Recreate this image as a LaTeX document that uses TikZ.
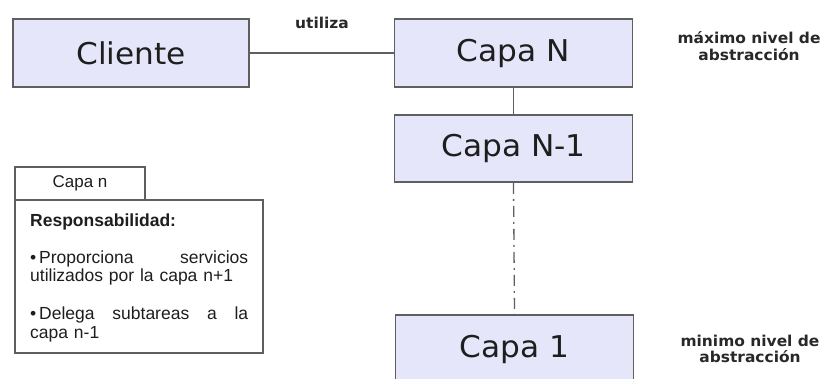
\documentclass[tikz,border=0pt]{standalone}
\usepackage{fontspec}
\newfontfamily\boxfont[FakeStretch=1.04]{DejaVu Sans}
\newfontfamily\lblfont[FakeStretch=1.03]{DejaVu Sans Bold}
\newfontfamily\pkgfont{Liberation Sans}
\definecolor{boxfill}{RGB}{230,230,250}
\definecolor{boxdraw}{RGB}{95,95,95}
\definecolor{txt}{RGB}{30,30,30}
\definecolor{lbltxt}{RGB}{40,40,40}
\tikzset{
  layer/.style={draw=boxdraw, line width=1.6pt, fill=boxfill, minimum width=238pt, minimum height=68pt, inner sep=0pt, text=txt, font=\boxfont\fontsize{30}{32}\selectfont},
  lbl/.style={text=lbltxt, font=\lblfont\fontsize{15}{16.5}\selectfont, align=center, inner sep=0pt},
  pkg/.style={draw=boxdraw, line width=1.3pt, fill=white, inner sep=0pt},
  link/.style={draw=boxdraw, line width=1.4pt},
  dotlink/.style={draw=boxdraw, line width=1.3pt, dash pattern=on 11pt off 5pt on 2pt off 5pt}
}
\begin{document}
\begin{tikzpicture}[x=1pt,y=-1pt]
\useasboundingbox (0,0) rectangle (826,378);
\clip (0,0) rectangle (826,378);
\fill[white] (0,0) rectangle (826,378);
% layer boxes
\node[layer, minimum width=236pt] (cliente) at (131,53) {Cliente};
\node[layer] (capaN) at (513.5,53) {Capa N};
\node[layer, minimum height=67pt] (capaN1) at (513.5,148.5) {Capa N-1};
\node[layer] (capa1) at (514.5,349) {Capa 1};
% connectors
\draw[link] (cliente.east) -- (capaN.west);
\draw[link] (capaN.south) -- (capaN1.north);
\draw[dotlink] (capaN1.south) -- (capa1.north);
% labels
\node[lbl] (utiliza) at (322,23) {utiliza};
\node[lbl] (maxlbl) at (749,46) {máximo nivel de\\abstracción};
\node[lbl] (minlbl) at (750,349) {minimo nivel de\\abstracción};
% package
\node[pkg, minimum width=248pt, minimum height=153pt] (pkgbody) at (139,276.5) {};
\node[pkg, minimum width=130pt, minimum height=33pt, font=\pkgfont\fontsize{17}{19}\selectfont, text=txt] (pkgtab) at (80,183.5) {Capa n};
\node[anchor=base west, inner sep=0pt, text width=218pt, text=txt, font=\pkgfont\fontsize{17.5}{18.5}\selectfont] (pkgtext) at (30,226)
{\textbf{Responsabilidad:}\\[18.5pt]
•\,Proporciona\hfill servicios\\
utilizados por la capa n+1\\[19.5pt]
•\,Delega\hfill subtareas\hfill a\hfill la\\
capa n-1};
\end{tikzpicture}
\end{document}
